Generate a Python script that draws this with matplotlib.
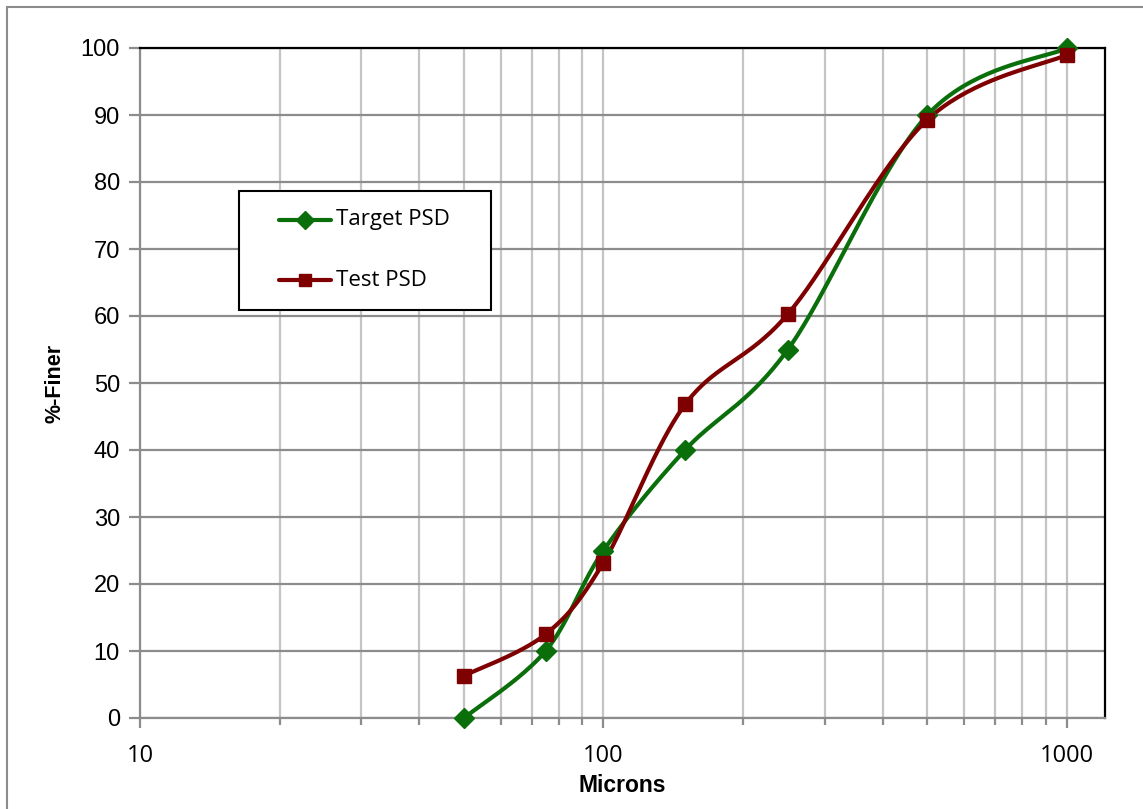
import numpy as np
import matplotlib.pyplot as plt
from matplotlib.ticker import FixedLocator, NullFormatter, FixedFormatter
from matplotlib.patches import Rectangle
from matplotlib.lines import Line2D

sizes = [50, 75, 100, 150, 250, 500, 1000]
target_psd = [0, 10, 25, 40, 55, 90, 100]
test_psd = [6.3, 12.5, 23.2, 46.8, 60.3, 89.3, 99.0]
series_names = ['Target PSD', 'Test PSD']

X_MIN, X_MAX = 10, 1208
GREEN = '#0a6e0a'
RED = '#7f0000'
W, H = 1143, 809

plt.rcParams['font.family'] = ['Open Sans', 'DejaVu Sans']

fig = plt.figure(figsize=(W / 100, H / 100), dpi=100)
ax = fig.add_axes([140 / W, 1 - 718 / H, 965 / W, 670 / H])


def px(x, y):
    # pixel (from top-left) -> figure fraction
    return x / W, 1 - y / H


# outer chart border (cropped at right/bottom like the reference)
fig.add_artist(Rectangle((7 / W, -0.05), 1.2, 1 - 7 / H + 0.05,
                         transform=fig.transFigure, fill=False,
                         edgecolor='#8c8c8c', linewidth=1.5))


def smooth(xs, ys, n=40):
    # Excel-like smoothed line: cubic Bezier through points, done in pixel space
    w, h = 965.0, 670.0
    span = np.log10(X_MAX) - np.log10(X_MIN)
    u = (np.log10(xs) - np.log10(X_MIN)) / span * w
    v = np.asarray(ys, float) / 100.0 * h
    pts = np.column_stack([u, v])
    out = [pts[0]]
    t = np.linspace(0, 1, n)[1:, None]
    for i in range(len(pts) - 1):
        p0 = pts[max(i - 1, 0)]
        p1 = pts[i]
        p2 = pts[i + 1]
        p3 = pts[min(i + 2, len(pts) - 1)]
        c1 = p1 + (p2 - p0) / 6.0
        c2 = p2 - (p3 - p1) / 6.0
        seg = ((1 - t) ** 3) * p1 + 3 * ((1 - t) ** 2) * t * c1 \
            + 3 * (1 - t) * t ** 2 * c2 + t ** 3 * p2
        out.extend(seg)
    out = np.array(out)
    xx = 10 ** (out[:, 0] / w * span + np.log10(X_MIN))
    yy = out[:, 1] / h * 100.0
    return xx, yy


styles = [(GREEN, 'D', 10), (RED, 's', 10)]
for data, (color, marker, ms) in zip([target_psd, test_psd], styles):
    sx, sy = smooth(sizes, data)
    ax.plot(sx, sy, color=color, linewidth=3, zorder=3, solid_capstyle='round')
    ax.plot(sizes, data, linestyle='none', marker=marker, markersize=ms,
            color=color, zorder=4, clip_on=False)

ax.set_xscale('log')
ax.set_xlim(X_MIN, X_MAX)
ax.set_ylim(0, 100)

major_x = [10, 100, 1000]
minor_x = [m * d for d in (10, 100) for m in range(2, 10)]
ax.xaxis.set_major_locator(FixedLocator(major_x))
ax.xaxis.set_major_formatter(FixedFormatter(['10', '100', '1000']))
ax.xaxis.set_minor_locator(FixedLocator(minor_x))
ax.xaxis.set_minor_formatter(NullFormatter())
ax.set_yticks(np.arange(0, 101, 10))

ax.grid(True, which='both', axis='x', color='#c4c4c4', linewidth=1.6, zorder=1)
ax.grid(True, which='major', axis='y', color='#8c8c8c', linewidth=1.6, zorder=1)
ax.set_axisbelow(True)

for side in ('left', 'bottom'):
    ax.spines[side].set_color('#8c8c8c')
    ax.spines[side].set_linewidth(1.6)
for side in ('top', 'right'):
    ax.spines[side].set_color('black')
    ax.spines[side].set_linewidth(1.6)

ax.tick_params(axis='both', which='both', direction='out', color='#8c8c8c',
               width=1.6)
ax.tick_params(axis='x', which='major', length=7, pad=12, labelsize=17)
ax.tick_params(axis='x', which='minor', length=5)
ax.tick_params(axis='y', length=8, pad=6.5, labelsize=17)
for lbl in ax.get_yticklabels():
    lbl.set_fontfamily(['Liberation Sans', 'DejaVu Sans'])

ax.set_xlabel('Microns', fontsize=16.5, fontweight='bold', labelpad=4,
              family=['Liberation Sans', 'DejaVu Sans'])
ax.set_ylabel('%-Finer', fontsize=15.5, fontweight='bold', labelpad=11,
              family=['Liberation Sans', 'DejaVu Sans'])

# legend box, drawn at the reference position
x0, y0 = px(239, 310)
x1, y1 = px(491, 191)
fig.add_artist(Rectangle((x0, y0), x1 - x0, y1 - y0, transform=fig.transFigure,
                         facecolor='white', edgecolor='black', linewidth=1.5,
                         zorder=5))
for name, (color, marker, ms), ey in zip(series_names, styles, [220, 280]):
    la, lb = px(279, ey)
    lc, _ = px(331, ey)
    fig.add_artist(Line2D([la, lc], [lb, lb], transform=fig.transFigure,
                          color=color, linewidth=3, solid_capstyle='round',
                          zorder=6))
    fig.add_artist(Line2D([(la + lc) / 2], [lb], transform=fig.transFigure,
                          color=color, marker=marker, markersize=ms - 1,
                          linestyle='none', zorder=7))
    tx, ty = px(336, ey)
    fig.text(tx, ty, name, fontsize=16, va='center', ha='left', zorder=7)

fig.savefig('out.png', dpi=100)
